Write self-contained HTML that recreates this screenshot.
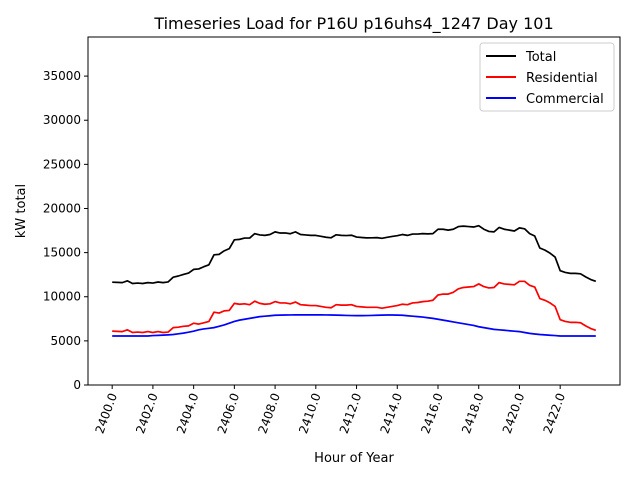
<!DOCTYPE html>
<html><head><meta charset="utf-8"><style>
body{margin:0;background:#fff;font-family:"Liberation Sans","DejaVu Sans",sans-serif}
svg text{font-family:"DejaVu Sans","Liberation Sans",sans-serif}
</style></head><body>
<svg id="chart" width="640" height="480" xmlns="http://www.w3.org/2000/svg">
<rect width="640" height="480" fill="#fff"/>
<text x="354" y="29" font-size="16" text-anchor="middle">Timeseries Load for P16U p16uhs4_1247  Day 101</text>
<g id="grid"></g>
<g id="series"></g>
<rect x="88" y="37" width="532" height="348" fill="none" stroke="#000" stroke-width="1"/>
<text transform="translate(25,211) rotate(-90)" font-size="13" text-anchor="middle">kW total</text>
<text x="354" y="462" font-size="13" text-anchor="middle">Hour of Year</text>
<g>
<rect x="480" y="43" width="134" height="68" fill="#fff" stroke="#ccc" rx="3"/>
<line x1="486" y1="56" x2="516" y2="56" stroke="#000" stroke-width="2"/><text x="526" y="61" font-size="13">Total</text>
<line x1="486" y1="77" x2="516" y2="77" stroke="#f00" stroke-width="2"/><text x="526" y="82" font-size="13">Residential</text>
<line x1="486" y1="98" x2="516" y2="98" stroke="#00f" stroke-width="2"/><text x="526" y="103" font-size="13">Commercial</text>
</g>
</svg>
<script>
const startHour = 2400;
const stepHour = 0.25;
const xTicks = [2400,2402,2404,2406,2408,2410,2412,2414,2416,2418,2420,2422];
const yTicks = [0,5000,10000,15000,20000,25000,30000,35000];
const totalLoad = [11650,11630,11600,11800,11500,11550,11500,11600,11550,11670,11600,11680,12220,12350,12530,12680,13100,13150,13400,13620,14750,14800,15200,15450,16450,16500,16650,16650,17150,17000,16950,17050,17350,17220,17230,17140,17350,17050,17000,16950,16950,16850,16740,16680,17020,16950,16930,16970,16760,16710,16670,16680,16700,16620,16730,16830,16920,17050,16950,17100,17100,17150,17120,17150,17650,17650,17550,17650,17950,18000,17950,17900,18050,17650,17400,17350,17850,17650,17550,17450,17800,17700,17150,16880,15520,15280,14940,14500,12950,12750,12650,12650,12600,12250,11950,11750];
const residentialLoad = [6100,6080,6050,6250,5950,6000,5950,6050,5950,6050,5950,6000,6500,6550,6650,6700,7000,6900,7050,7200,8250,8150,8400,8450,9250,9150,9200,9100,9500,9250,9150,9200,9450,9300,9300,9200,9400,9100,9050,9000,9000,8900,8800,8750,9100,9050,9050,9100,8900,8850,8800,8800,8800,8700,8800,8900,9000,9150,9100,9300,9350,9450,9500,9600,10200,10300,10300,10500,10900,11050,11100,11150,11450,11150,11000,11050,11600,11450,11400,11350,11750,11750,11300,11100,9800,9600,9300,8900,7400,7200,7100,7100,7050,6700,6400,6200];
const commercialLoad = [5550,5550,5550,5550,5550,5550,5550,5550,5600,5620,5650,5680,5720,5800,5880,5980,6100,6250,6350,6420,6500,6650,6800,7000,7200,7350,7450,7550,7650,7750,7800,7850,7900,7920,7930,7940,7950,7950,7950,7950,7950,7950,7940,7930,7920,7900,7880,7870,7860,7860,7870,7880,7900,7920,7930,7930,7920,7900,7850,7800,7750,7700,7620,7550,7450,7350,7250,7150,7050,6950,6850,6750,6600,6500,6400,6300,6250,6200,6150,6100,6050,5950,5850,5780,5720,5680,5640,5600,5550,5550,5550,5550,5550,5550,5550,5550];

const X0=88,X1=620,Y0=385,Y1=37;
const xMin=2400-23.75*0.05, xMax=2423.75+23.75*0.05, yMin=0, yMax=39430;
const xs=v=>X0+(v-xMin)/(xMax-xMin)*(X1-X0);
const ys=v=>Y0-(v-yMin)/(yMax-yMin)*(Y0-Y1);
const NS="http://www.w3.org/2000/svg";
const grid=document.getElementById('grid'), ser=document.getElementById('series');
function mk(tag,attrs,parent){const e=document.createElementNS(NS,tag);for(const k in attrs)e.setAttribute(k,attrs[k]);parent.appendChild(e);return e;}
yTicks.forEach(t=>{
  const y=ys(t);
  const tk=mk('line',{x1:X0-4,x2:X0,y1:y,y2:y,stroke:'#000'},grid);
  
  
  const tx=mk('text',{x:X0-7,y:y+4,'font-size':12,'text-anchor':'end'},grid);
  tx.textContent=t;
  
  
});
xTicks.forEach(t=>{
  const x=xs(t);
  const tk=mk('line',{x1:x,x2:x,y1:Y0,y2:Y0+4,stroke:'#000'},grid);
  
  
  const tx=mk('text',{transform:`translate(${x+5},${Y0+10}) rotate(-70)`,'font-size':12,'text-anchor':'end'},grid);
  tx.textContent=t.toFixed(1);
  
  
});
function line(arr,color,name){
  const pts=arr.map((v,i)=>xs(startHour+i*stepHour).toFixed(2)+','+ys(v).toFixed(2)).join(' ');
  const p=mk('polyline',{points:pts,fill:'none',stroke:color,'stroke-width':1.7,'stroke-linejoin':'round'},ser);
  
  
}
line(totalLoad,'#000','total-line');
line(residentialLoad,'#f00','residential-line');
line(commercialLoad,'#00f','commercial-line');
</script>
</body></html>
